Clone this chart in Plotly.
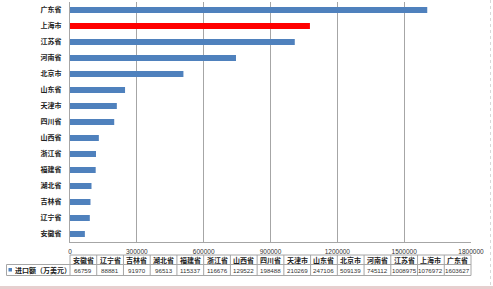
import plotly.graph_objects as go

categories = ["安徽省", "辽宁省", "吉林省", "湖北省", "福建省", "浙江省", "山西省", "四川省",
              "天津市", "山东省", "北京市", "河南省", "江苏省", "上海市", "广东省"]
values = [66759, 88881, 91970, 96513, 115337, 116676, 129522, 198488,
          210269, 247106, 509139, 745112, 1008975, 1076972, 1603627]
series_name = "进口额（万美元）"
highlight = "上海市"
tick_vals = [0, 300000, 600000, 900000, 1200000, 1500000, 1800000]

BLUE = "#4F81BD"
RED = "#FF0000"
GRID = "#A6A6A6"
FONT = "Noto Sans CJK SC"
NUMFONT = "Liberation Sans, Arial"

colors = [RED if c == highlight else BLUE for c in categories]

fig = go.Figure(go.Bar(
    x=values, y=categories, orientation="h",
    marker=dict(color=colors, line=dict(width=0)),
    showlegend=False,
))

W, H = 493, 289
ml, mr, mt, mb = 70, 22, 2, 47
fig.update_layout(
    width=W, height=H,
    margin=dict(l=ml, r=mr, t=mt, b=mb),
    paper_bgcolor="white", plot_bgcolor="white",
    bargap=0.625,
    font=dict(family=FONT, size=7, color="#333333"),
)
fig.update_xaxes(
    range=[0, 1800000], tickvals=tick_vals, ticktext=[str(v) for v in tick_vals],
    showgrid=True, gridcolor=GRID, gridwidth=1,
    showline=True, linecolor=GRID, linewidth=1,
    ticks="", ticklabelstandoff=3,
    tickfont=dict(size=6.5, color="#333333", family=NUMFONT),
    zeroline=False, fixedrange=True,
)
fig.update_yaxes(
    categoryorder="array", categoryarray=categories,
    showline=True, linecolor=GRID, linewidth=1,
    showgrid=False, ticks="", ticklabelstandoff=6,
    tickfont=dict(size=7, color="#222222", family=FONT, weight="bold"),
    fixedrange=True,
)

# data table below the axis
plot_w = W - ml - mr
plot_h = H - mt - mb
def px2x(px):
    return (px - ml) / plot_w
def py2y(py):
    return (H - mb - py) / plot_h

n = len(categories)
y_top, y_mid, y_bot = py2y(255), py2y(264.5), py2y(275.5)
x_left = px2x(6.5)
line = dict(color=GRID, width=1)
shapes = []
shapes.append(dict(type="line", xref="paper", yref="paper", x0=0, x1=1, y0=y_top, y1=y_top, line=line))
shapes.append(dict(type="line", xref="paper", yref="paper", x0=x_left, x1=1, y0=y_mid, y1=y_mid, line=line))
shapes.append(dict(type="line", xref="paper", yref="paper", x0=x_left, x1=1, y0=y_bot, y1=y_bot, line=line))
shapes.append(dict(type="line", xref="paper", yref="paper", x0=x_left, x1=x_left, y0=y_mid, y1=y_bot, line=line))
for i in range(n + 1):
    xx = i / n
    shapes.append(dict(type="line", xref="paper", yref="paper", x0=xx, x1=xx, y0=y_top, y1=y_bot, line=line))
# legend swatch
shapes.append(dict(type="rect", xref="paper", yref="paper",
                   x0=px2x(8.5), x1=px2x(12), y0=py2y(271.5), y1=py2y(268),
                   fillcolor=BLUE, line=dict(width=0)))
# page decorations (right border & bottom band)
shapes.append(dict(type="line", xref="paper", yref="paper", x0=px2x(490.5), x1=px2x(490.5),
                   y0=py2y(0), y1=py2y(289), line=dict(color="#D8D8D8", width=1, dash="dot")))
shapes.append(dict(type="rect", xref="paper", yref="paper", x0=px2x(0), x1=px2x(493),
                   y0=py2y(289), y1=py2y(286), fillcolor="#E6CFCF", line=dict(width=0)))

annotations = []
for i, (c, v) in enumerate(zip(categories, values)):
    xc = (i + 0.5) / n
    annotations.append(dict(xref="paper", yref="paper", x=xc, y=(y_top + y_mid) / 2,
                            text=c, showarrow=False, xanchor="center", yanchor="middle",
                            font=dict(size=7, color="#222222", family=FONT, weight="bold")))
    annotations.append(dict(xref="paper", yref="paper", x=xc, y=(y_mid + y_bot) / 2,
                            text=str(v), showarrow=False, xanchor="center", yanchor="middle",
                            font=dict(size=6.2, color="#333333", family=NUMFONT)))
annotations.append(dict(xref="paper", yref="paper", x=px2x(13), y=(y_mid + y_bot) / 2,
                        text=series_name, showarrow=False, xanchor="left", yanchor="middle",
                        font=dict(size=7, color="#222222", family=FONT, weight="bold")))

fig.update_layout(shapes=shapes, annotations=annotations)
fig.write_html("out.html")
